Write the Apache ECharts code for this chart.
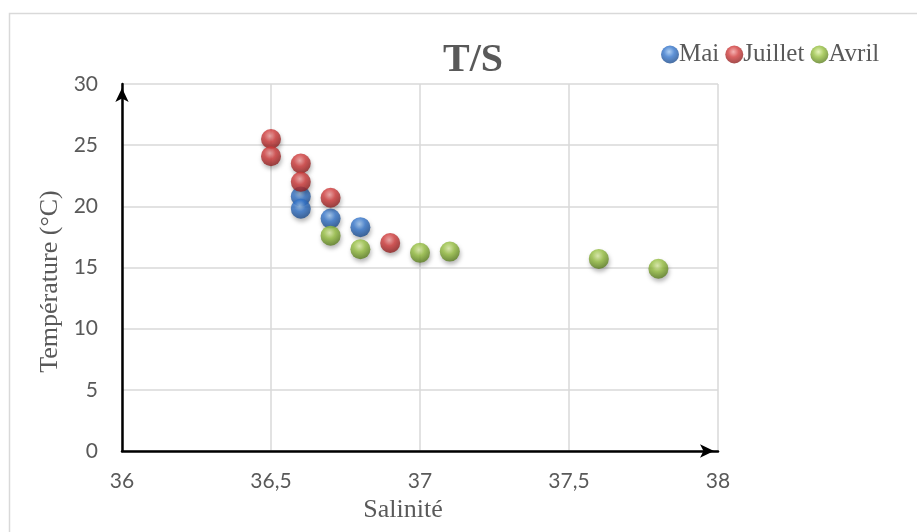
<!DOCTYPE html>
<html>
<head>
<meta charset="utf-8">
<script src="https://cdn.jsdelivr.net/npm/echarts@6/dist/echarts.min.js"></script>
<style>
  html, body { margin: 0; padding: 0; background: #fff; }
  #chart { width: 917px; height: 532px; }
</style>
</head>
<body>
<div id="chart"></div>
<script>
// Salinity / temperature pairs per sampling month
const maiSal = [36.6, 36.6, 36.7, 36.8];
const maiTemp = [20.8, 19.8, 19.0, 18.3];

const juilletSal = [36.5, 36.5, 36.6, 36.6, 36.7, 36.9];
const juilletTemp = [25.5, 24.1, 23.5, 22.0, 20.7, 17.0];

const avrilSal = [36.7, 36.8, 37.0, 37.1, 37.6, 37.8];
const avrilTemp = [17.6, 16.5, 16.2, 16.3, 15.7, 14.9];

const seriesNames = ['Mai', 'Juillet', 'Avril'];

function pairs(xs, ys) { return xs.map((x, i) => [x, ys[i]]); }

// Glossy sphere fill: highlight near the top, darker rim
function sphere(light, mid, dark) {
  return new echarts.graphic.RadialGradient(0.45, 0.35, 0.65, [
    { offset: 0, color: light },
    { offset: 0.45, color: mid },
    { offset: 1, color: dark }
  ]);
}

const palettes = {
  Mai: ['#9cc4f0', '#3576cc', '#1b4a8a'],
  Juillet: ['#f2a0a0', '#d23c3c', '#8c1f1f'],
  Avril: ['#dff0a8', '#98c142', '#5a7d1e']
};

function scatter(name, data) {
  const p = palettes[name];
  return {
    name: name,
    type: 'scatter',
    data: data,
    symbolSize: 20,
    itemStyle: {
      color: sphere(p[0], p[1], p[2]),
      shadowColor: 'rgba(0,0,0,0.35)',
      shadowBlur: 4,
      shadowOffsetX: 1,
      shadowOffsetY: 3
    },
    emphasis: { disabled: true }
  };
}

const fmtComma = v => String(v).replace('.', ',');

const tickFont = { fontFamily: 'Lato', fontSize: 21, color: '#595959' };

const chart = echarts.init(document.getElementById('chart'));
chart.setOption({
  animation: false,
  backgroundColor: '#fff',
  graphic: [{
    type: 'rect',
    shape: { x: 9.5, y: 13.5, width: 960, height: 600 },
    style: { fill: 'none', stroke: '#d9d9d9', lineWidth: 1.5 },
    z: -1
  }],
  title: {
    text: 'T/S',
    left: 468,
    top: 36,
    textAlign: 'center',
    textStyle: {
      fontFamily: 'Liberation Serif',
      fontWeight: 'bold',
      fontSize: 40,
      color: '#595959'
    }
  },
  legend: {
    data: seriesNames.map(n => ({
      name: n,
      itemStyle: { color: sphere(palettes[n][0], palettes[n][1], palettes[n][2]) }
    })),
    left: 661,
    top: 42,
    padding: 0,
    icon: 'circle',
    itemWidth: 18,
    itemHeight: 18,
    itemGap: 6,
    textStyle: {
      fontFamily: 'Liberation Serif',
      fontSize: 25,
      color: '#595959',
      padding: [0, 0, 0, -5]
    }
  },
  grid: { left: 122, right: 199, top: 84, bottom: 81 },
  xAxis: {
    type: 'value',
    min: 36,
    max: 38,
    interval: 0.5,
    name: 'Salinité',
    nameLocation: 'middle',
    nameGap: 40,
    nameTextStyle: {
      fontFamily: 'Liberation Serif',
      fontSize: 26,
      color: '#595959',
      padding: [0, 34, 0, 0]
    },
    axisLine: {
      show: true,
      onZero: false,
      symbol: ['none', 'arrow'],
      symbolSize: [10, 14],
      symbolOffset: [0, -4],
      lineStyle: { color: '#000', width: 2.5 }
    },
    axisTick: { show: false },
    axisLabel: Object.assign({ formatter: fmtComma, margin: 20 }, tickFont),
    splitLine: { show: true, lineStyle: { color: '#d9d9d9', width: 1.5 } }
  },
  yAxis: {
    type: 'value',
    min: 0,
    max: 30,
    interval: 5,
    name: 'Température (°C)',
    nameLocation: 'middle',
    nameGap: 55,
    nameTextStyle: {
      fontFamily: 'Liberation Serif',
      fontSize: 26,
      color: '#595959',
      padding: [0, 28, 0, 0]
    },
    axisLine: {
      show: true,
      onZero: false,
      symbol: ['none', 'arrow'],
      symbolSize: [10, 14],
      symbolOffset: [0, -4],
      lineStyle: { color: '#000', width: 2.5 }
    },
    axisTick: { show: false },
    axisLabel: Object.assign({ margin: 24 }, tickFont),
    splitLine: { show: true, lineStyle: { color: '#d9d9d9', width: 1.5 } }
  },
  series: [
    scatter('Mai', pairs(maiSal, maiTemp)),
    scatter('Juillet', pairs(juilletSal, juilletTemp)),
    scatter('Avril', pairs(avrilSal, avrilTemp))
  ]
});
</script>
</body>
</html>
